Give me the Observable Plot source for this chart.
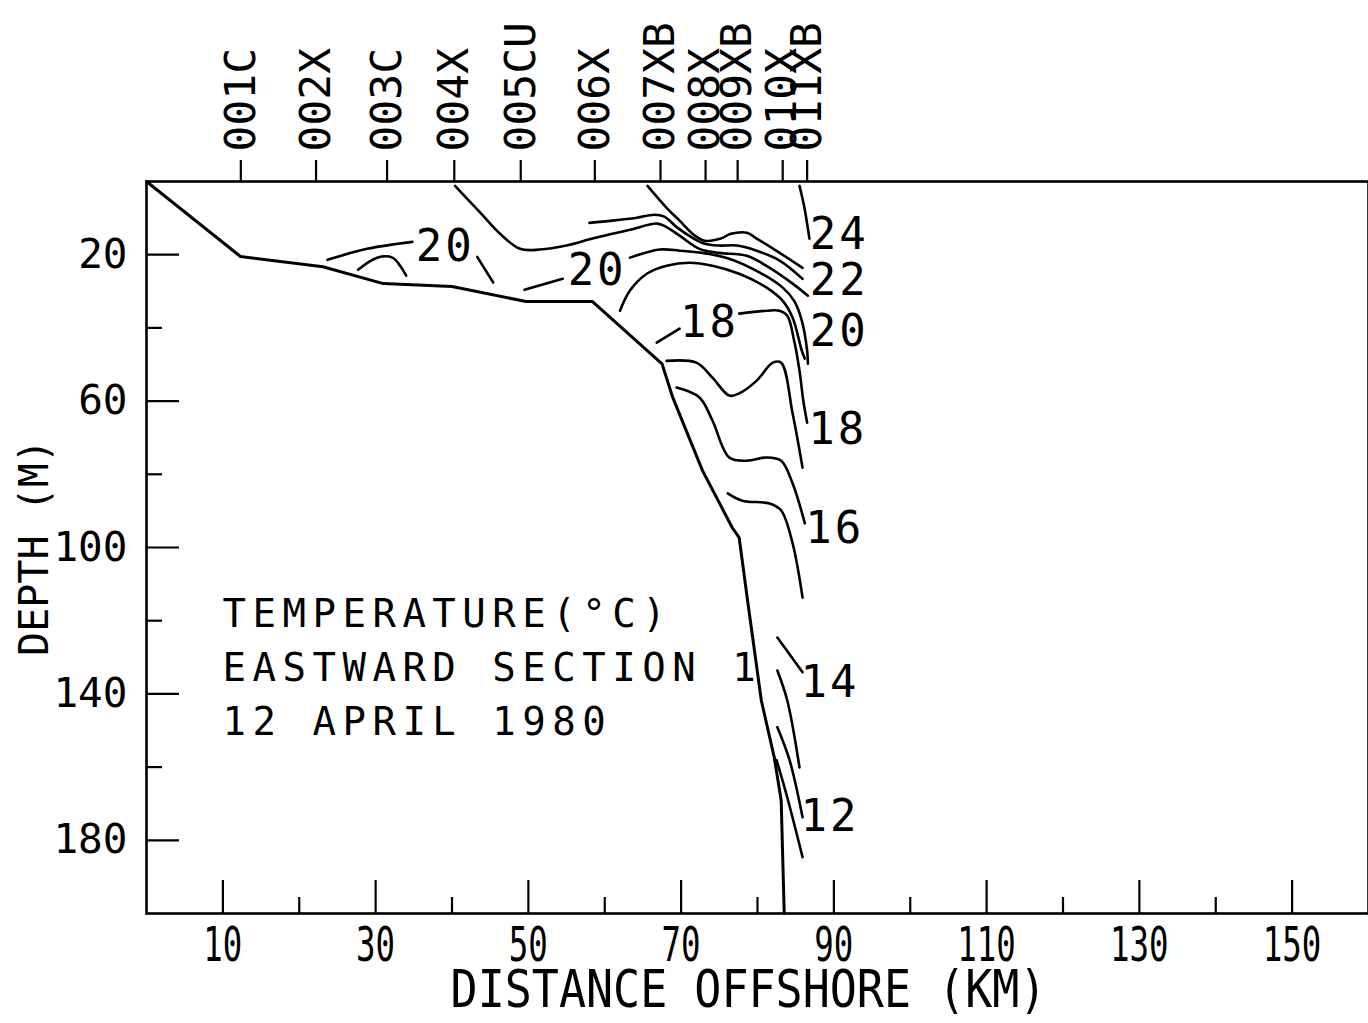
<!DOCTYPE html>
<html><head><meta charset="utf-8">
<script src="https://cdn.jsdelivr.net/npm/d3@7"></script>
<script src="https://cdn.jsdelivr.net/npm/@observablehq/plot@0.6"></script>
<style>body{margin:0;background:#fff;} svg{display:block}</style>
</head><body><div id="chart"></div>
<script>
// ---- data ----
const stationNames = ["001C","002X","003C","004X","005CU","006X","007XB","008X","009XB","010X","011XB"];
const stationKm    = [12.35, 22.2, 31.5, 40.3, 49.0, 58.7, 67.3, 73.2, 77.4, 83.3, 86.5];

const xMajorTicks = [10,30,50,70,90,110,130,150];
const xMinorTicks = [20,40,60,80,100,120,140];
const yMajorTicks = [20,60,100,140,180];
const yMinorTicks = [40,80,120,160];

// bottom profile (distance km, depth m)
const bottomKm    = [0, 12.3, 23.1, 31.0, 40.0, 49.7, 58.4, 67.5, 68.9, 72.8, 76.7, 77.6, 78.7, 80.5, 82.2, 83.1, 83.5];
const bottomDepth = [0, 20.5, 23.3, 27.9, 28.7, 32.8, 32.8, 49.8, 59.0, 79.0, 94.6, 97.3, 114.5, 141.8, 157.4, 169.1, 200];

// isotherm segments: [km, depth]
const iso24      = [[85.5,1.2],[86.1,6.7],[86.8,15.6]];
const iso22a     = [[65.6,1.2],[68.1,7.2],[69.8,10.7],[71.8,14.8],[73.1,16.2],[75.2,15.6],[76.5,14.3],[78.6,14.0],[79.9,15.6],[82.9,19.5],[85.9,23.6]];
const iso22b     = [[58.0,11.3],[61.0,10.7],[64.2,9.9],[66.5,9.1],[67.8,9.6],[69.5,12.6],[71.5,15.4],[73.1,17.0],[75.0,17.5],[77.3,17.5],[79.9,18.9],[82.9,21.6],[85.9,26.6]];
const iso21      = [[40.4,1.2],[43.7,8.5],[46.3,14.3],[48.9,18.4],[51.5,18.6],[55.0,17.5],[58.4,15.6],[61.0,14.3],[63.3,13.2],[66.9,11.5],[68.2,12.6],[69.8,14.8],[72.4,18.4],[75.0,19.5],[78.6,20.3],[81.6,23.6],[84.6,27.9],[86.6,31.2]];
const iso20left  = [[23.7,21.4],[28.9,18.4],[34.8,16.5]];
const iso20left2 = [[43.3,20.6],[45.4,27.6]];
const iso20arc   = [[27.7,24.1],[30.2,20.8],[32.2,20.8],[33.2,23.0],[34.0,25.7]];
const iso20midA  = [[49.5,29.6],[54.5,26.6]];
const iso20midB  = [[63.3,20.8],[67.2,18.6],[69.8,18.9],[72.8,19.5],[76.3,21.1],[80.3,24.9],[83.3,29.0],[84.8,32.6],[85.8,38.0],[86.5,46.2],[86.6,49.8]];
const iso19      = [[62.0,35.3],[63.3,29.8],[65.5,25.2],[68.1,23.0],[71.1,22.2],[74.1,23.0],[77.6,25.2],[81.2,29.0],[83.3,32.6],[84.6,37.2],[85.8,46.2],[86.2,48.4]];
const iso18a     = [[66.8,44.0],[69.8,40.2]];
const iso18b     = [[77.6,36.1],[81.2,35.3],[82.9,35.3],[83.9,36.7],[84.8,43.5],[85.5,51.7],[86.0,59.9],[86.5,65.9]];
const iso17      = [[68.1,49.0],[72.0,49.5],[74.1,53.6],[76.3,58.5],[77.6,57.9],[79.9,54.4],[82.0,49.5],[83.1,49.5],[84.6,63.4],[85.9,78.2]];
const iso16      = [[69.4,56.3],[72.4,59.0],[74.1,65.3],[76.3,75.4],[78.6,76.3],[81.2,75.4],[83.1,76.3],[84.6,82.5],[86.2,93.4]];
const iso15      = [[76.1,85.2],[78.0,87.2],[81.6,88.0],[83.1,89.9],[84.6,98.9],[85.9,113.7]];
const iso14a     = [[82.6,124.6],[85.9,134.1]];
const iso14b     = [[82.6,133.6],[83.9,141.8],[85.5,160.1]];
const iso12a     = [[82.6,149.1],[84.2,158.1],[85.9,173.7]];
const iso12b     = [[82.5,158.1],[83.9,168.3],[85.9,184.6]];

const isoLabels     = ["20","20","18","24","22","20","18","16","14","12"];
const isoLabelKm    = [39.1, 59.0, 73.7, 90.7, 90.7, 90.7, 90.5, 90.1, 89.5, 89.5];
const isoLabelDepth = [17.8, 24.4, 38.6, 14.6, 27.1, 41.0, 67.8, 94.8, 136.9, 173.7];

const noteLines = ["TEMPERATURE(°C)", "EASTWARD SECTION 1", "12 APRIL 1980"];

// ---- tables ----
const bottomRows = bottomKm.map((km,i)=>({km, depth: bottomDepth[i]}));
const isoSets = {iso24, iso22a, iso22b, iso21, iso20left, iso20left2, iso20arc, iso20midA, iso20midB, iso19, iso18a, iso18b, iso17, iso16, iso15, iso14a, iso14b, iso12a, iso12b};
const isoRows = Object.entries(isoSets).flatMap(([id, pts]) => pts.map(([km, depth]) => ({id, km, depth})));
const labelRows = isoLabels.map((t,i)=>({t, km: isoLabelKm[i], depth: isoLabelDepth[i]}));
const stationRows = stationNames.map((n,i)=>({n, km: stationKm[i]}));

// ---- layout ----
const W = 1368, H = 1023, mL = 146, mR = 0, mT = 181, mB = 110;
const plotW = W - mL - mR, plotH = H - mT - mB;
const mono = "'DejaVu Sans Mono', 'Liberation Mono', monospace";

const chart = Plot.plot({
  width: W, height: H,
  marginLeft: mL, marginRight: mR, marginTop: mT, marginBottom: mB,
  x: {domain: [0, 160], axis: null},
  y: {domain: [0, 200], reverse: true, axis: null},
  style: {fontFamily: mono, background: "white", color: "black"},
  marks: [
    Plot.frame({stroke: "black", strokeWidth: 2.6}),
    Plot.ruleX(xMajorTicks, {x: d => d, insetTop: plotH - 33, strokeWidth: 2.2}),
    Plot.ruleX(xMinorTicks, {x: d => d, insetTop: plotH - 16, strokeWidth: 2.2}),
    Plot.ruleY(yMajorTicks, {y: d => d, insetRight: plotW - 33, strokeWidth: 2.2}),
    Plot.ruleY(yMinorTicks, {y: d => d, insetRight: plotW - 16, strokeWidth: 2.2}),
    Plot.ruleX(stationKm, {x: d => d, insetTop: -21, insetBottom: plotH, strokeWidth: 2.2}),
    Plot.text(xMajorTicks, {x: d => d, text: d => String(d), frameAnchor: "bottom", lineAnchor: "middle", dy: 32, fontSize: 45, ariaDescription: "xnarrow"}),
    Plot.text(yMajorTicks, {y: d => d, text: d => String(d), frameAnchor: "left", lineAnchor: "middle", dx: -19, textAnchor: "end", fontSize: 41}),
    Plot.text(stationRows, {x: "km", text: "n", frameAnchor: "top", lineAnchor: "middle", dy: -30, rotate: -90, textAnchor: "start", fontSize: 43}),
    Plot.text(["DISTANCE OFFSHORE (KM)"], {frameAnchor: "bottom", lineAnchor: "middle", textAnchor: "middle", dx: -9, dy: 77, fontSize: 50, ariaDescription: "xtitle"}),
    Plot.text(["DEPTH (M)"], {frameAnchor: "left", lineAnchor: "middle", textAnchor: "middle", dx: -111, rotate: -90, fontSize: 40}),
    Plot.line(bottomRows, {x: "km", y: "depth", stroke: "black", strokeWidth: 3}),
    Plot.line(isoRows, {x: "km", y: "depth", z: "id", stroke: "black", strokeWidth: 2.6, curve: "catmull-rom"}),
    Plot.text(labelRows, {x: "km", y: "depth", text: "t", fontSize: 44, ariaDescription: "isolabel"}),
    Plot.text([noteLines.join("\n")], {frameAnchor: "left", lineAnchor: "middle", dx: 76, dy: 116, textAnchor: "start", lineHeight: 1.39, fontSize: 39, ariaDescription: "note"})
  ]
});

const svg = d3.select(chart);
svg.selectAll('g[aria-description="note"] text').attr("letter-spacing", 6.5);
svg.selectAll('g[aria-description="isolabel"] text').attr("letter-spacing", 3);
svg.selectAll('g[aria-description="xnarrow"] text').each(function() {
  const t = this.getAttribute("transform") || "";
  this.setAttribute("transform", t + " scale(0.72,1.05)");
});
svg.selectAll('g[aria-description="xtitle"] text').each(function() {
  const t = this.getAttribute("transform") || "";
  this.setAttribute("transform", t + " scale(0.9,1.04)");
});
document.getElementById("chart").appendChild(chart);
</script>
</body></html>
